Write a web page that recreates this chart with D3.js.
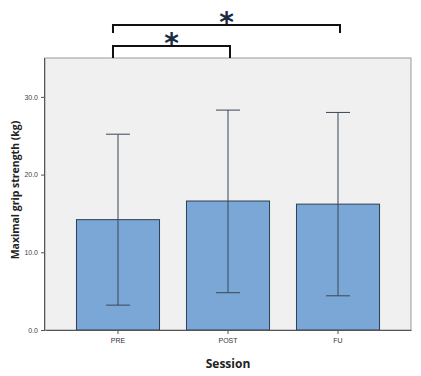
<!DOCTYPE html>
<html>
<head>
<meta charset="utf-8">
<script src="https://cdn.jsdelivr.net/npm/d3@7"></script>
<style>
body { margin: 0; background: #fff; }
</style>
</head>
<body>
<script>

var width = 421,
	height = 376;

var sessions = ['PRE', 'POST', 'FU'];
var means = [14.2, 16.6, 16.2];
var upper = [25.2, 28.3, 28.0];
var lower = [3.2, 4.8, 4.4];
var yTicks = [0, 10, 20, 30];
// significance brackets: [from, to]
var sigPairs = [['PRE', 'POST'], ['PRE', 'FU']];

var data = sessions.map(function(s, i){
	return {session: s, mean: means[i], hi: upper[i], lo: lower[i]};
});

var plot = {left: 45, right: 411, top: 58, bottom: 330};

var svg = d3.select('body').append('svg')
			.attr('width', width)
			.attr('height', height)
			.style('font-family', 'Arial, "Liberation Sans", sans-serif');

var x = d3.scaleBand()
			.domain(sessions)
			.range([plot.left, plot.right])
			.paddingInner(0.245)
			.paddingOuter(0.286);

var y = d3.scaleLinear()
			.domain([0, 35])
			.range([plot.bottom, plot.bottom - 35 * 7.77]);

// plot background
svg.append('rect')
	.attr('x', plot.left)
	.attr('y', plot.top)
	.attr('width', plot.right - plot.left)
	.attr('height', plot.bottom - plot.top)
	.attr('fill', '#f0f0f0')
	.attr('stroke', '#9a9a9a')
	.attr('stroke-width', 1);

// bars
svg.selectAll('.bar')
	.data(data)
	.enter().append('rect').classed('bar', true)
	.attr('x', function(d){ return x(d.session); })
	.attr('y', function(d){ return y(d.mean); })
	.attr('width', x.bandwidth())
	.attr('height', function(d){ return y(0) - y(d.mean); })
	.attr('fill', '#7aa7d6')
	.attr('stroke', '#2b3f58')
	.attr('stroke-width', 1);

// error bars
var cap = 12;
var eb = svg.selectAll('.err')
	.data(data)
	.enter().append('g').classed('err', true)
	.attr('stroke', '#3b4756')
	.attr('stroke-width', 1);

eb.append('line')
	.attr('x1', function(d){ return x(d.session) + x.bandwidth() / 2; })
	.attr('x2', function(d){ return x(d.session) + x.bandwidth() / 2; })
	.attr('y1', function(d){ return y(d.hi); })
	.attr('y2', function(d){ return y(d.lo); });

eb.append('line')
	.attr('x1', function(d){ return x(d.session) + x.bandwidth() / 2 - cap; })
	.attr('x2', function(d){ return x(d.session) + x.bandwidth() / 2 + cap; })
	.attr('y1', function(d){ return y(d.hi); })
	.attr('y2', function(d){ return y(d.hi); });

eb.append('line')
	.attr('x1', function(d){ return x(d.session) + x.bandwidth() / 2 - cap; })
	.attr('x2', function(d){ return x(d.session) + x.bandwidth() / 2 + cap; })
	.attr('y1', function(d){ return y(d.lo); })
	.attr('y2', function(d){ return y(d.lo); });

// y axis
var yAxis = svg.append('g')
	.attr('transform', 'translate(' + plot.left + ',0)')
	.call(d3.axisLeft(y).tickValues(yTicks).tickSize(4).tickFormat(d3.format('.1f')));
yAxis.select('.domain').attr('stroke', '#555').attr('d', 'M-0.5,' + plot.top + 'V' + plot.bottom);
yAxis.selectAll('line').attr('stroke', '#555');
yAxis.selectAll('text').attr('font-size', 7).attr('fill', '#444').attr('font-family', 'Arial, "Liberation Sans", sans-serif');

// x axis
var xAxis = svg.append('g')
	.attr('transform', 'translate(0,' + plot.bottom + ')')
	.call(d3.axisBottom(x).tickSize(4).tickSizeOuter(0));
xAxis.select('.domain').attr('stroke', '#555');
xAxis.selectAll('line').attr('stroke', '#555');
xAxis.selectAll('text').attr('font-size', 7).attr('fill', '#333').attr('dy', '0.9em').attr('font-family', 'Arial, "Liberation Sans", sans-serif');

// axis titles
svg.append('text')
	.attr('x', 228)
	.attr('y', 368)
	.attr('text-anchor', 'middle')
	.attr('font-size', 12)
	.attr('font-weight', 'bold')
	.attr('fill', '#222')
	.attr('font-family', '"Open Sans", sans-serif')
	.text('Session');

svg.append('text')
	.attr('transform', 'translate(19,190) rotate(-90)')
	.attr('text-anchor', 'middle')
	.attr('font-size', 10.5)
	.attr('font-weight', 'bold')
	.attr('fill', '#222')
	.attr('font-family', '"Open Sans", sans-serif')
	.text('Maximal grip strength (kg)');

// significance brackets
var brY = [46, 25];
var legEnd = [58, 33];
sigPairs.forEach(function(p, i){
	var x1 = x(p[0]) + x.bandwidth() / 2 - 5,
		x2 = x(p[1]) + x.bandwidth() / 2 + 2;
	svg.append('path')
		.attr('d', 'M' + x1 + ',' + legEnd[i] + 'V' + brY[i] + 'H' + x2 + 'V' + legEnd[i])
		.attr('fill', 'none')
		.attr('stroke', '#111')
		.attr('stroke-width', 2);
	svg.append('text')
		.attr('x', (x1 + x2) / 2)
		.attr('y', brY[i] + 7)
		.attr('text-anchor', 'middle')
		.attr('font-size', 28)
		.attr('font-weight', 'bold')
		.attr('fill', '#1b2a44')
		.attr('font-family', '"DejaVu Sans", sans-serif')
		.text('*');
});

</script>
</body>
</html>
